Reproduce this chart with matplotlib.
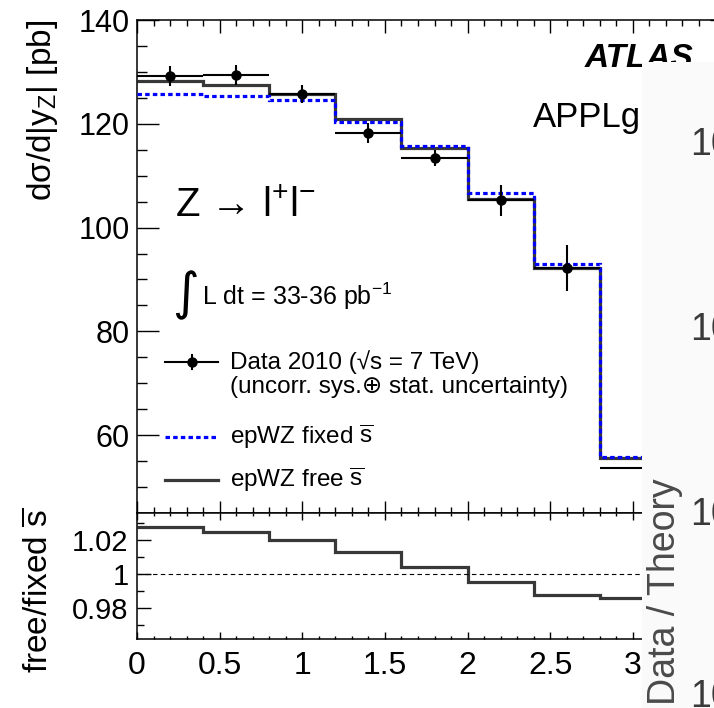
import numpy as np
import matplotlib
matplotlib.use("Agg")
import matplotlib.pyplot as plt
from matplotlib.ticker import MultipleLocator, FuncFormatter
from matplotlib.patches import Rectangle

plt.rcParams['font.family'] = ['Liberation Sans', 'DejaVu Sans']
plt.rcParams['mathtext.fontset'] = 'custom'
plt.rcParams['mathtext.rm'] = 'Liberation Sans'
plt.rcParams['mathtext.it'] = 'Liberation Sans:italic'
plt.rcParams['mathtext.bf'] = 'Liberation Sans:bold'

# |y_Z| bins
bin_edges = [0.0, 0.4, 0.8, 1.2, 1.6, 2.0, 2.4, 2.8, 3.6]
data_y = [129.2, 129.4, 125.8, 118.2, 113.4, 105.3, 92.2, 53.7]
data_err = [1.9, 1.9, 1.75, 1.9, 1.6, 3.0, 4.5, 4.0]
fixed_sbar = [125.7, 125.4, 124.6, 120.3, 115.7, 106.6, 93.0, 55.8]
free_sbar = [128.2, 127.4, 125.7, 121.0, 115.4, 105.5, 92.3, 55.6]
ratio_free_fixed = [1.028, 1.025, 1.020, 1.013, 1.004, 0.9955, 0.988, 0.986]

W, H = 714, 708
fig = plt.figure(figsize=(W / 100, H / 100), dpi=100)

# pixel geometry of the two pads
x0, x1 = 137, 732
ax = fig.add_axes([x0 / W, 1 - 513 / H, (x1 - x0) / W, 493 / H])
axr = fig.add_axes([x0 / W, 1 - 639 / H, (x1 - x0) / W, 126 / H])

edges = np.array(bin_edges)
centers = 0.5 * (edges[1:] + edges[:-1])
half = 0.5 * np.diff(edges)

dark = '#383838'
ax.stairs(free_sbar, edges, baseline=None, color=dark, lw=2.3, zorder=2)
ax.stairs(fixed_sbar, edges, baseline=None, color='#0000ff', lw=2.3,
          ls=(0, (1.4, 1.0)), zorder=3)
ax.errorbar(centers, data_y, xerr=half, yerr=data_err, fmt='o', color='black',
            ms=6.5, elinewidth=1.5, capsize=0, zorder=4)

ax.set_xlim(0, 3.6)
ax.set_ylim(45, 140)
ax.yaxis.set_major_locator(MultipleLocator(20))
ax.yaxis.set_minor_locator(MultipleLocator(5))
gfmt = FuncFormatter(lambda v, p: f"{v:g}")
for a in (ax, axr):
    a.xaxis.set_major_locator(MultipleLocator(0.5))
    a.xaxis.set_minor_locator(MultipleLocator(0.1))
    a.xaxis.set_major_formatter(gfmt)
    for s in a.spines.values():
        s.set_linewidth(1.1)
ax.tick_params(axis='y', which='major', direction='in', length=16, width=1.0,
               labelsize=22, pad=5, right=True)
ax.tick_params(axis='y', which='minor', direction='in', length=7.5, width=1.0,
               right=True)
ax.tick_params(axis='x', which='major', direction='in', length=9, width=1.0,
               top=True, labelbottom=False)
ax.tick_params(axis='x', which='minor', direction='in', length=4.5, width=1.0,
               top=True)

# ratio pad
axr.stairs(ratio_free_fixed, edges, baseline=None, color=dark, lw=2.3)
axr.axhline(1.0, color='black', lw=0.8, ls=(0, (4, 3)))
axr.set_xlim(0, 3.6)
axr.set_ylim(0.962, 1.036)
axr.yaxis.set_major_locator(MultipleLocator(0.02))
axr.yaxis.set_minor_locator(MultipleLocator(0.01))
axr.yaxis.set_major_formatter(gfmt)
axr.tick_params(axis='y', which='major', direction='in', length=10, width=1.0,
                labelsize=21, pad=6, right=True)
axr.tick_params(axis='y', which='minor', direction='in', length=5, width=1.0,
                right=True)
axr.tick_params(axis='x', which='major', direction='in', length=5, width=1.0,
                labelsize=23, pad=9, top=True)
axr.tick_params(axis='x', which='minor', direction='in', length=2.5, width=1.0,
                top=True)

# axis titles
fig.text(43 / W, 1 - 20 / H, 'dσ/d|y$_{\\rm Z}$| [pb]', rotation=90,
         ha='center', va='top', fontsize=24)
fig.text(40 / W, 1 - 508 / H, 'free/fixed $\\overline{\\rm s}$', rotation=90,
         ha='center', va='top', fontsize=24)

# annotations in the main pad
fig.text(175 / W, 1 - 217 / H, 'Z → l$^{+}$l$^{-}$', fontsize=29,
         va='baseline')
fig.text(172 / W, 1 - 320 / H, '∫', fontsize=37, va='bottom',
         family='DejaVu Sans')
fig.text(202 / W, 1 - 305 / H, 'L dt = 33-36 pb$^{-1}$', fontsize=18,
         va='baseline')
fig.text(585 / W, 1 - 67 / H, 'ATLAS', fontsize=24, weight='bold',
         style='italic', va='baseline')
fig.text(533 / W, 1 - 127 / H, 'APPLgrid', fontsize=25, va='baseline')

# legend drawn ROOT-style
def ax_frac(px, py):
    return (px - x0) / (x1 - x0), (513 - py) / 493

lx0, ly = ax_frac(165, 362)
lx1, _ = ax_frac(218, 362)
lxm = 0.5 * (lx0 + lx1)
tx, _ = ax_frac(230, 0)
fs_leg = 17.5
ax.plot([lx0, lx1], [ly, ly], color='black', lw=1.5, transform=ax.transAxes)
ax.plot([lxm], [ly], 'o', color='black', ms=6.5, transform=ax.transAxes)
ax.plot([lxm, lxm], [ly - 0.014, ly + 0.014], color='black', lw=1.5,
        transform=ax.transAxes)
ax.text(tx, ly, 'Data 2010 (√s = 7 TeV)', fontsize=fs_leg, va='center',
        transform=ax.transAxes)
_, ly2 = ax_frac(0, 387)
ax.text(tx, ly2, '(uncorr. sys.⊕ stat. uncertainty)', fontsize=fs_leg,
        va='center', transform=ax.transAxes)
_, ly3 = ax_frac(0, 437)
ax.plot([lx0, lx1], [ly3, ly3], color='#0000ff', lw=2.3, ls=(0, (1.4, 1.0)),
        transform=ax.transAxes)
ax.text(tx, ly3, 'epWZ fixed $\\overline{\\rm s}$', fontsize=fs_leg,
        va='center', transform=ax.transAxes)
_, ly4 = ax_frac(0, 480)
ax.plot([lx0, lx1], [ly4, ly4], color=dark, lw=2.3, transform=ax.transAxes)
ax.text(tx, ly4, 'epWZ free $\\overline{\\rm s}$', fontsize=fs_leg,
        va='center', transform=ax.transAxes)

# the neighbouring panel that covers the right edge of the picture
fig.add_artist(Rectangle((642 / W, 0), (W - 642) / W, 1 - 62 / H,
                         transform=fig.transFigure, facecolor='#fafafa',
                         edgecolor='none', zorder=10))
for yc in [145, 330, 515, 697]:
    fig.text(690 / W, 1 - yc / H, '10', fontsize=27, color='#3a3a3a',
             va='center', ha='left', zorder=11)
fig.text(665 / W, 1 - 705 / H, 'Data / Theory', fontsize=27, color='#4a4a4a',
         rotation=90, ha='center', va='bottom', zorder=11)

fig.savefig('out.png', dpi=100)
